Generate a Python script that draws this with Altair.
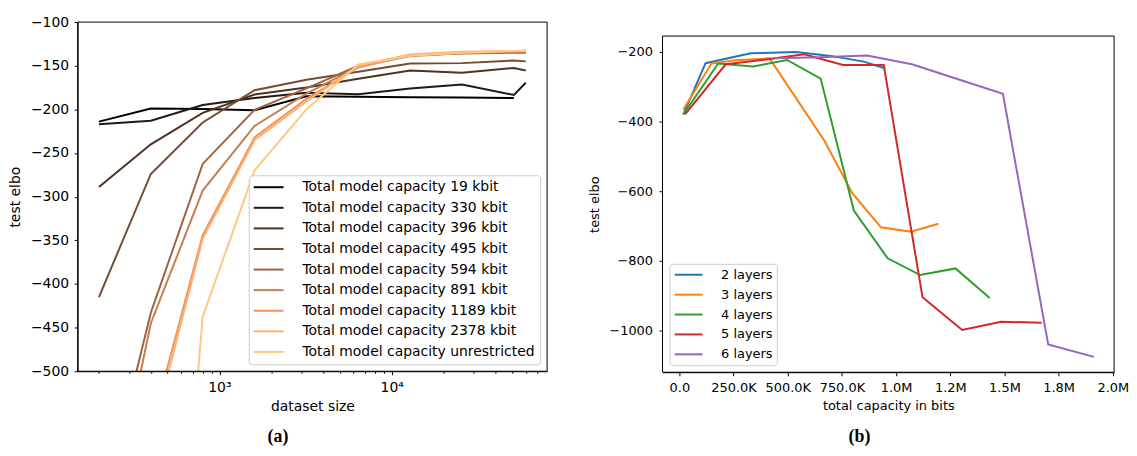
import altair as alt
import pandas as pd

# ---------------- panel (a) data ----------------
dataset_size = [200, 400, 800, 1600, 3200, 6400, 12800, 25600, 51200, 60000]
capacity_labels = [
    "Total model capacity 19 kbit",
    "Total model capacity 330 kbit",
    "Total model capacity 396 kbit",
    "Total model capacity 495 kbit",
    "Total model capacity 594 kbit",
    "Total model capacity 891 kbit",
    "Total model capacity 1189 kbit",
    "Total model capacity 2378 kbit",
    "Total model capacity unrestricted",
]
elbo_19 = [-214, -199, -199.5, -201, -185, -185.5, -186, -186.5, -187, None]
elbo_330 = [-217, -213, -195, -187, -181, -182.7, -176, -171.5, -183.5, -169.5]
elbo_396 = [-289, -240, -204, -183, -175, -165, -155.5, -158, -152.5, -155.5]
elbo_495 = [-415, -274, -215, -178, -166, -157, -147.5, -147, -144, -145]
elbo_594 = [-675, -433, -262.5, -200.6, -176, -150, -138, -136, -135, -135]
elbo_891 = [-730, -445, -293, -219, -182, -151, -139, -135.5, -134.5, -134]
elbo_1189 = [-800, -567, -344, -232, -188, -152, -138, -135, -133.5, -133]
elbo_2378 = [-830, -580, -348, -235, -191, -150, -137, -134, -133, -132.5]
elbo_unres = [-1400, -1150, -437.6, -270, -200, -148.6, -138.5, -135, -133, -133]
copper_colors = ["#000000", "#27190f", "#4f3220", "#764b30", "#9e643f",
                 "#c57d4f", "#ec955f", "#ffae6f", "#ffc77f"]

xa_ticks = [200, 300, 400, 500, 600, 700, 800, 900,
            1000, 2000, 3000, 4000, 5000, 6000, 7000, 8000, 9000,
            10000, 20000, 30000, 40000, 50000, 60000, 70000]
xa_major = [1000, 10000]
xa_major_labels = ["10³", "10⁴"]
ya_ticks = [-500, -450, -400, -350, -300, -250, -200, -150, -100]
xa_domain = [150.4, 79800]
ya_domain = [-500, -100]

# ---------------- panel (b) data ----------------
layer_labels = ["2 layers", "3 layers", "4 layers", "5 layers", "6 layers"]
cap_2 = [18000, 121000, 329000, 538000, 698000, 851000, 950000]
elbo_2 = [-380, -233, -204.6, -201, -212, -228.5, -248]
cap_3 = [18000, 148000, 255000, 416000, 668000, 798000, 930000, 1069000, 1195000]
elbo_3 = [-366, -234, -224.5, -219, -454, -606, -704, -717, -694]
cap_4 = [18000, 179000, 339000, 497000, 652000, 805000, 961000, 1111000, 1274000, 1432000]
elbo_4 = [-380, -234, -242.7, -223.6, -277, -656, -793, -841, -822, -907]
cap_5 = [26000, 214000, 408000, 576000, 755000, 943000, 1122000, 1305000, 1485000, 1672000]
elbo_5 = [-380, -236, -221.7, -207.4, -238, -238, -905, -998.6, -975, -978]
cap_6 = [439000, 650000, 866000, 1073000, 1493000, 1702000, 1913000]
elbo_6 = [-219, -216, -211, -236, -321, -1040, -1076]
tab_colors = ["#1f77b4", "#ff7f0e", "#2ca02c", "#d62728", "#9467bd"]

xb_ticks = [0, 250000, 500000, 750000, 1000000, 1250000, 1500000, 1750000, 2000000]
xb_tick_labels = ["0.0", "250.0K", "500.0K", "750.0K", "1.0M", "1.2M", "1.5M", "1.8M", "2.0M"]
yb_ticks = [-1000, -800, -600, -400, -200]
xb_domain = [-78000, 2006000]
yb_frame = [-1120, -155]      # plot box of panel (b)
yb_domain = [-1120, -115]     # scale domain (extra headroom above the box)

# ---------------- tables ----------------
rows_a = []
for lab, ys in zip(capacity_labels, [elbo_19, elbo_330, elbo_396, elbo_495, elbo_594,
                                     elbo_891, elbo_1189, elbo_2378, elbo_unres]):
    for xv, yv in zip(dataset_size, ys):
        if yv is not None:
            rows_a.append({"series": lab, "size": xv, "elbo": yv})
df_a = pd.DataFrame(rows_a)

rows_b = []
for lab, xs, ys in zip(layer_labels, [cap_2, cap_3, cap_4, cap_5, cap_6],
                       [elbo_2, elbo_3, elbo_4, elbo_5, elbo_6]):
    for xv, yv in zip(xs, ys):
        rows_b.append({"series": lab, "cap": xv, "elbo": yv})
df_b = pd.DataFrame(rows_b)

FONT = "DejaVu Sans"
minus_expr = "replace(format(datum.value, 'd'), '-', '\u2212')"

xa_label_expr = " : ".join(f"datum.value == {v} ? '{l}'" for v, l in zip(xa_major, xa_major_labels)) + " : ''"
xa_major_test = " || ".join(f"datum.value == {v}" for v in xa_major)
xb_label_expr = " : ".join(f"datum.value == {v} ? '{l}'" for v, l in zip(xb_ticks, xb_tick_labels)) + " : ''"

one_row = pd.DataFrame({"k": [0]})

# ---------------- panel (a) ----------------
lines_a = alt.Chart(df_a).mark_line(strokeWidth=2, clip=True).encode(
    x=alt.X("size:Q",
            scale=alt.Scale(type="log", domain=xa_domain, nice=False),
            axis=alt.Axis(values=xa_ticks, labelExpr=xa_label_expr, title="dataset size",
                          tickSize={"condition": {"test": xa_major_test, "value": 3.5}, "value": 2},
                          labelFontSize=14, titleFontSize=14, labelPadding=6, titlePadding=5,
                          labelFlush=False, labelOverlap=False, grid=False)),
    y=alt.Y("elbo:Q",
            scale=alt.Scale(domain=ya_domain, nice=False, zero=False),
            axis=alt.Axis(values=ya_ticks, labelExpr=minus_expr, title="test elbo",
                          tickSize=3.5, labelFontSize=14, titleFontSize=14,
                          labelPadding=5.5, titlePadding=8, grid=False)),
    color=alt.Color("series:N",
                    scale=alt.Scale(domain=capacity_labels, range=copper_colors),
                    sort=capacity_labels,
                    legend=alt.Legend(title=None, orient="bottom-right", offset=7,
                                      symbolType="M-2.5,0H2.5", symbolSize=144,
                                      symbolStrokeWidth=2, symbolOffset=8, labelOffset=27,
                                      labelFontSize=14, labelFont=FONT, labelColor="black",
                                      labelLimit=400, padding=5, rowPadding=6.7,
                                      fillColor="rgba(255,255,255,0.8)", strokeColor="#cccccc",
                                      cornerRadius=3)),
)

frame_a = alt.Chart(one_row).mark_rect(fill=None, stroke="black", strokeWidth=1).encode(
    x=alt.datum(xa_domain[0]), x2=alt.datum(xa_domain[1]),
    y=alt.datum(ya_domain[0]), y2=alt.datum(ya_domain[1]))

cap_a = alt.Chart(pd.DataFrame({"t": ["(a)"]})).mark_text(
    font="Liberation Serif", fontSize=18, fontWeight="bold", align="center", baseline="bottom",
    color="black").encode(text="t:N", x=alt.value(201.5), y=alt.value(426))

left = alt.layer(lines_a, frame_a, cap_a).properties(width=472, height=351)

# ---------------- panel (b) ----------------
lines_b = alt.Chart(df_b).mark_line(strokeWidth=2, clip=True).encode(
    x=alt.X("cap:Q",
            scale=alt.Scale(domain=xb_domain, nice=False, zero=False),
            axis=alt.Axis(values=xb_ticks, labelExpr=xb_label_expr, title="total capacity in bits",
                          tickSize=3.5, labelFontSize=13, titleFontSize=13, labelPadding=6,
                          titlePadding=5, labelFlush=False, labelOverlap=False, grid=False)),
    y=alt.Y("elbo:Q",
            scale=alt.Scale(domain=yb_domain, nice=False, zero=False),
            axis=alt.Axis(values=yb_ticks, labelExpr=minus_expr, title="test elbo",
                          tickSize=3.5, labelFontSize=13, titleFontSize=13,
                          labelPadding=6.5, titlePadding=7, titleY=183, domain=False,
                          grid=False)),
    color=alt.Color("series:N",
                    scale=alt.Scale(domain=layer_labels, range=tab_colors),
                    sort=layer_labels,
                    legend=alt.Legend(title=None, orient="bottom-left", offset=7,
                                      symbolType="M-2.5,0H2.5", symbolSize=125,
                                      symbolStrokeWidth=2, symbolOffset=8.3, labelOffset=25.6,
                                      labelFontSize=13, labelFont=FONT, labelColor="black",
                                      padding=4, rowPadding=6,
                                      fillColor="rgba(255,255,255,0.8)", strokeColor="#cccccc",
                                      cornerRadius=3)),
)

frame_b = alt.Chart(one_row).mark_rect(fill=None, stroke="black", strokeWidth=1).encode(
    x=alt.datum(xb_domain[0]), x2=alt.datum(xb_domain[1]),
    y=alt.datum(yb_frame[0]), y2=alt.datum(yb_frame[1]))

cap_b = alt.Chart(pd.DataFrame({"t": ["(b)"]})).mark_text(
    font="Liberation Serif", fontSize=18, fontWeight="bold", align="center", baseline="bottom",
    color="black").encode(text="t:N", x=alt.value(198), y=alt.value(426))

right = alt.layer(lines_b, frame_b, cap_b).properties(width=454, height=352)

chart = alt.hconcat(left, right, spacing=41).resolve_scale(
    color="independent"
).resolve_legend(
    color="independent"
).properties(
    padding={"left": 0, "top": 6, "right": 0, "bottom": 0}
).configure_view(
    stroke=None
).configure_axis(
    domainColor="black", tickColor="black", labelColor="black", titleColor="black",
    labelFont=FONT, titleFont=FONT, titleFontWeight="normal", domainWidth=1, tickWidth=1
).configure_legend(
    labelFont=FONT
)

chart.save("out.html", embed_options={"renderer": "svg", "actions": False})
